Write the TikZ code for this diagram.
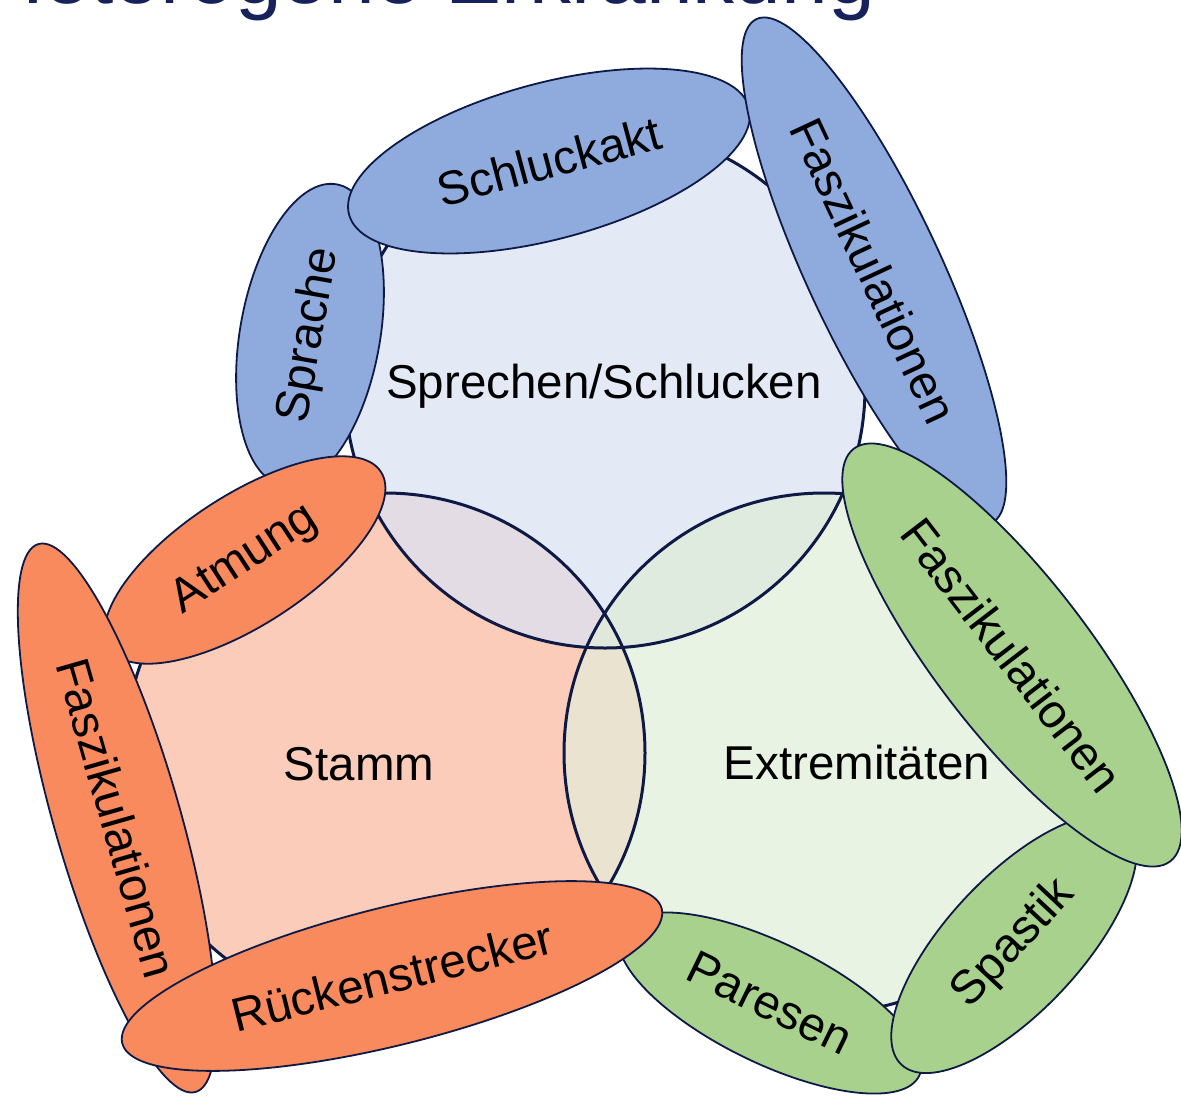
\documentclass[tikz,border=0pt]{standalone}
\usepackage{fontspec}
\setmainfont{Liberation Sans}
\usepackage{tikz}
\usetikzlibrary{positioning,shapes.geometric}
\definecolor{navyline}{HTML}{0E1A45}
\definecolor{headcolour}{HTML}{18225A}
\definecolor{sprechcolour}{HTML}{8FAADC}
\definecolor{stammcolour}{HTML}{F88A5E}
\definecolor{extremcolour}{HTML}{A9D18E}
\definecolor{sprechlight}{HTML}{E3E9F5}
\definecolor{stammlight}{HTML}{FBCCBA}
\definecolor{extremlight}{HTML}{E8F3E3}
\definecolor{sprechstamm}{HTML}{E4DCE5}
\definecolor{stammextrem}{HTML}{E9E3CF}
\definecolor{sprechextrem}{HTML}{E0EBE0}
\definecolor{allthree}{HTML}{DFE8DA}

\begin{document}
\begin{tikzpicture}[
  x=1pt, y=1pt,
  region/.style = {line width=3pt, draw=navyline},
  region_lab/.style = {anchor=base, inner sep=0pt, font=\fontsize{47.5}{57}\selectfont},
  symptom/.style = {ellipse, draw=navyline, line width=1.8pt, inner sep=0pt, font=\fontsize{47.5}{57}\selectfont},
  headline/.style = {anchor=base west, inner sep=0pt, text=headcolour, font=\fontsize{84}{100}\selectfont}
  ]

  \useasboundingbox (0,0) rectangle (1181,-1098);
  \fill[white] (0,0) rectangle (1181,-1098);

  \node[headline] (heading) at (-17,-3) {Heterogene Erkrankung};

  \coordinate (sprech_c) at (605,-388);
  \coordinate (stamm_c) at (385,-753);
  \coordinate (extrem_c) at (824,-753);

  \fill[sprechlight] (sprech_c) circle[radius=260];
  \fill[stammlight] (stamm_c) circle[radius=260];
  \fill[extremlight] (extrem_c) circle[radius=260];
  \begin{scope}
    \clip (sprech_c) circle[radius=260];
    \fill[sprechstamm] (stamm_c) circle[radius=260];
    \fill[sprechextrem] (extrem_c) circle[radius=260];
  \end{scope}
  \begin{scope}
    \clip (stamm_c) circle[radius=260];
    \fill[stammextrem] (extrem_c) circle[radius=260];
    \clip (extrem_c) circle[radius=260];
    \fill[allthree] (sprech_c) circle[radius=260];
  \end{scope}
  \draw[region] (sprech_c) circle[radius=260];
  \draw[region] (stamm_c) circle[radius=260];
  \draw[region] (extrem_c) circle[radius=260];

  \node[region_lab] (sprech_lab) at (604,-398) {Sprechen/Schlucken};
  \node[region_lab] (stamm_lab) at (359,-780) {Stamm};
  \node[region_lab] (extrem_lab) at (857,-779) {Extremitäten};

  \node[symptom, fill=sprechcolour, minimum width=306pt, minimum height=140pt, rotate=80] (sprache) at (310,-335) {Sprache};
  \node[symptom, fill=sprechcolour, minimum width=414pt, minimum height=156pt, rotate=15] (schluckakt) at (549,-161) {Schluckakt};
  \node[symptom, fill=sprechcolour, minimum width=556pt, minimum height=134pt, rotate=-65] (fasz_sprech) at (874,-271) {Faszikulationen};
  \node[symptom, fill=stammcolour, minimum width=324pt, minimum height=130pt, rotate=33] (atmung) at (245,-560) {Atmung};
  \node[symptom, fill=stammcolour, minimum width=570pt, minimum height=126pt, rotate=-74] (fasz_stamm) at (117,-818) {Faszikulationen};
  \node[symptom, fill=extremcolour, minimum width=332pt, minimum height=120pt, rotate=-26] (paresen) at (770,-1003) {Paresen};
  \node[symptom, fill=stammcolour, minimum width=556pt, minimum height=138pt, rotate=14] (ruecken) at (392,-976) {Rückenstrecker};
  \node[symptom, fill=extremcolour, minimum width=330pt, minimum height=134pt, rotate=47] (spastik) at (1014,-944) {Spastik};
  \node[symptom, fill=extremcolour, minimum width=520pt, minimum height=154pt, rotate=-52.5] (fasz_extrem) at (1012,-655) {Faszikulationen};

\end{tikzpicture}
\end{document}
